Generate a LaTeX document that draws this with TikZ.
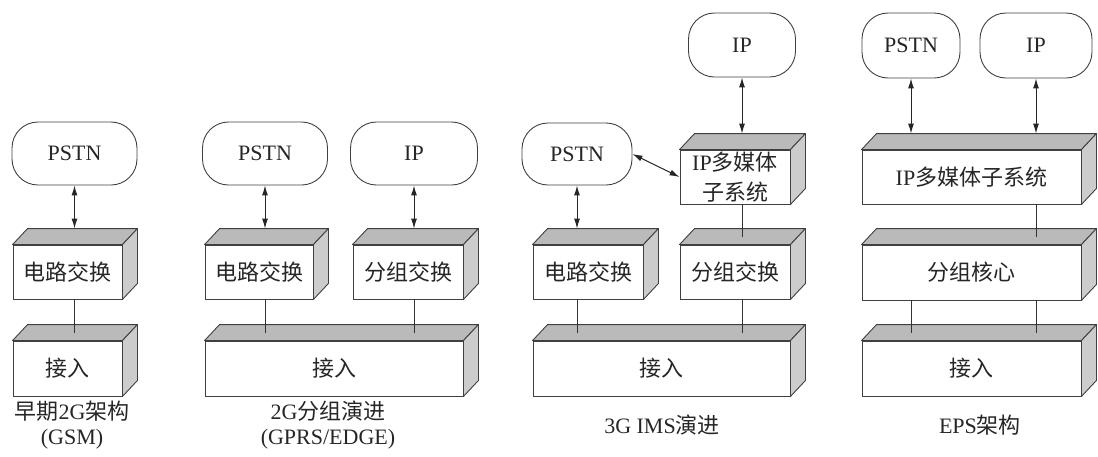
\documentclass[tikz,border=0pt]{standalone}
\usepackage{fontspec}
\setmainfont{Liberation Serif}
\newfontfamily\cjk{Noto Sans CJK SC}
\usetikzlibrary{calc,arrows.meta}
\tikzset{
  cloudbox/.style={draw=black!75, line width=0.9pt, rounded corners=26pt, minimum height=63pt, inner sep=0pt, text=black!85, font=\fontsize{22}{26}\selectfont},
  frontface/.style={draw=black!75, line width=0.9pt, fill=white, inner sep=0pt, minimum height=54pt, text=black!85, font=\fontsize{22}{30}\selectfont, align=center},
  topface/.style={draw=black!75, line width=0.9pt, fill=black!27, line join=round},
  sideface/.style={draw=black!75, line width=0.9pt, fill=black!20, line join=round},
  link/.style={draw=black!80, line width=0.9pt},
  biarrow/.style={draw=black!85, line width=1pt, {Latex[length=10pt,width=6pt]}-{Latex[length=10pt,width=6pt]}},
  caption/.style={text=black!85, font=\fontsize{22}{25}\selectfont, align=center, inner sep=0pt},
}
\newcommand\boxfaces[1]{%
  \filldraw[topface] (#1.north west) -- ++(15,-16) -- ($(#1.north east)+(15,-16)$) -- (#1.north east) -- cycle;
  \filldraw[sideface] (#1.north east) -- ++(15,-16) -- ($(#1.south east)+(15,-16)$) -- (#1.south east) -- cycle;
}
\begin{document}
\begin{tikzpicture}[x=1pt,y=-1pt]
\path[use as bounding box] (0,0) rectangle (1098,456);

% ---------- Panel 1: GSM ----------
\node[cloudbox, minimum width=125pt] (p1pstn) at (74.5,153.5) {PSTN};
\node[frontface, minimum width=109pt] (p1cs) at (67.5,272) {\cjk 电路交换};
\node[frontface, minimum width=109pt, minimum height=55pt] (p1acc) at (67.5,368.5) {\cjk 接入};
\boxfaces{p1cs}
\boxfaces{p1acc}
\draw[biarrow] (p1pstn.south) -- ($(p1pstn.south |- p1cs.north)+(0,-16)$);
\draw[link] (p1pstn.south |- p1cs.south) -- ($(p1pstn.south |- p1acc.north)+(0,-8)$);
\node[caption] (p1cap) at (72,425) {{\cjk 早期}2G{\cjk 架构}\\(GSM)};

% ---------- Panel 2: GPRS/EDGE ----------
\node[cloudbox, minimum width=125pt] (p2pstn) at (265,153.5) {PSTN};
\node[cloudbox, minimum width=127pt] (p2ip) at (414,153.5) {IP};
\node[frontface, minimum width=108pt] (p2cs) at (259,272) {\cjk 电路交换};
\node[frontface, minimum width=110pt] (p2ps) at (408,272) {\cjk 分组交换};
\node[frontface, minimum width=258pt, minimum height=55pt] (p2acc) at (334,368.5) {\cjk 接入};
\boxfaces{p2cs}
\boxfaces{p2ps}
\boxfaces{p2acc}
\draw[biarrow] (p2pstn.south) -- ($(p2pstn.south |- p2cs.north)+(0,-16)$);
\draw[biarrow] (p2ip.south) -- ($(p2ip.south |- p2ps.north)+(0,-16)$);
\draw[link] (p2pstn.south |- p2cs.south) -- ($(p2pstn.south |- p2acc.north)+(0,-8)$);
\draw[link] (p2ip.south |- p2ps.south) -- ($(p2ip.south |- p2acc.north)+(0,-8)$);
\node[caption] (p2cap) at (328,425) {2G{\cjk 分组演进}\\(GPRS/EDGE)};

% ---------- Panel 3: 3G IMS ----------
\node[cloudbox, minimum width=107pt, minimum height=64pt] (p3ip) at (742,45) {IP};
\node[cloudbox, minimum width=110pt, minimum height=62pt] (p3pstn) at (577,154) {PSTN};
\node[frontface, minimum width=110pt] (p3ims) at (735,177) {IP{\cjk 多媒体}\\{\cjk 子系统}};
\node[frontface, minimum width=110pt] (p3cs) at (588,272) {\cjk 电路交换};
\node[frontface, minimum width=110pt] (p3ps) at (735,272) {\cjk 分组交换};
\node[frontface, minimum width=257pt, minimum height=55pt] (p3acc) at (661.5,368.5) {\cjk 接入};
\boxfaces{p3ims}
\boxfaces{p3cs}
\boxfaces{p3ps}
\boxfaces{p3acc}
\draw[biarrow] (p3ip.south) -- ($(p3ip.south |- p3ims.north)+(0,-16)$);
\draw[biarrow] (p3pstn.south) -- ($(p3pstn.south |- p3cs.north)+(0,-16)$);
\draw[biarrow] (p3pstn.east) -- (p3ims.west);
\draw[link] (p3ip.south |- p3ims.south) -- ($(p3ip.south |- p3ps.north)+(0,-8)$);
\draw[link] (p3pstn.south |- p3cs.south) -- ($(p3pstn.south |- p3acc.north)+(0,-8)$);
\draw[link] (p3ip.south |- p3ps.south) -- ($(p3ip.south |- p3acc.north)+(0,-8)$);
\node[caption] (p3cap) at (662,425) {3G IMS{\cjk 演进}};

% ---------- Panel 4: EPS ----------
\node[cloudbox, minimum width=98pt, minimum height=65pt] (p4pstn) at (911,45.5) {PSTN};
\node[cloudbox, minimum width=112pt, minimum height=65pt] (p4ip) at (1036,45.5) {IP};
\node[frontface, minimum width=219pt] (p4ims) at (971.5,177) {IP{\cjk 多媒体子系统}};
\node[frontface, minimum width=219pt, minimum height=55pt] (p4core) at (971.5,272.5) {\cjk 分组核心};
\node[frontface, minimum width=219pt, minimum height=55pt] (p4acc) at (971.5,368.5) {\cjk 接入};
\boxfaces{p4ims}
\boxfaces{p4core}
\boxfaces{p4acc}
\draw[biarrow] (p4pstn.south) -- ($(p4pstn.south |- p4ims.north)+(0,-16)$);
\draw[biarrow] (p4ip.south) -- ($(p4ip.south |- p4ims.north)+(0,-16)$);
\draw[link] (p4ip.south |- p4ims.south) -- ($(p4ip.south |- p4core.north)+(0,-8)$);
\draw[link] (p4pstn.south |- p4core.south) -- ($(p4pstn.south |- p4acc.north)+(0,-8)$);
\draw[link] (p4ip.south |- p4core.south) -- ($(p4ip.south |- p4acc.north)+(0,-8)$);
\node[caption] (p4cap) at (980,425) {EPS{\cjk 架构}};
\end{tikzpicture}
\end{document}
